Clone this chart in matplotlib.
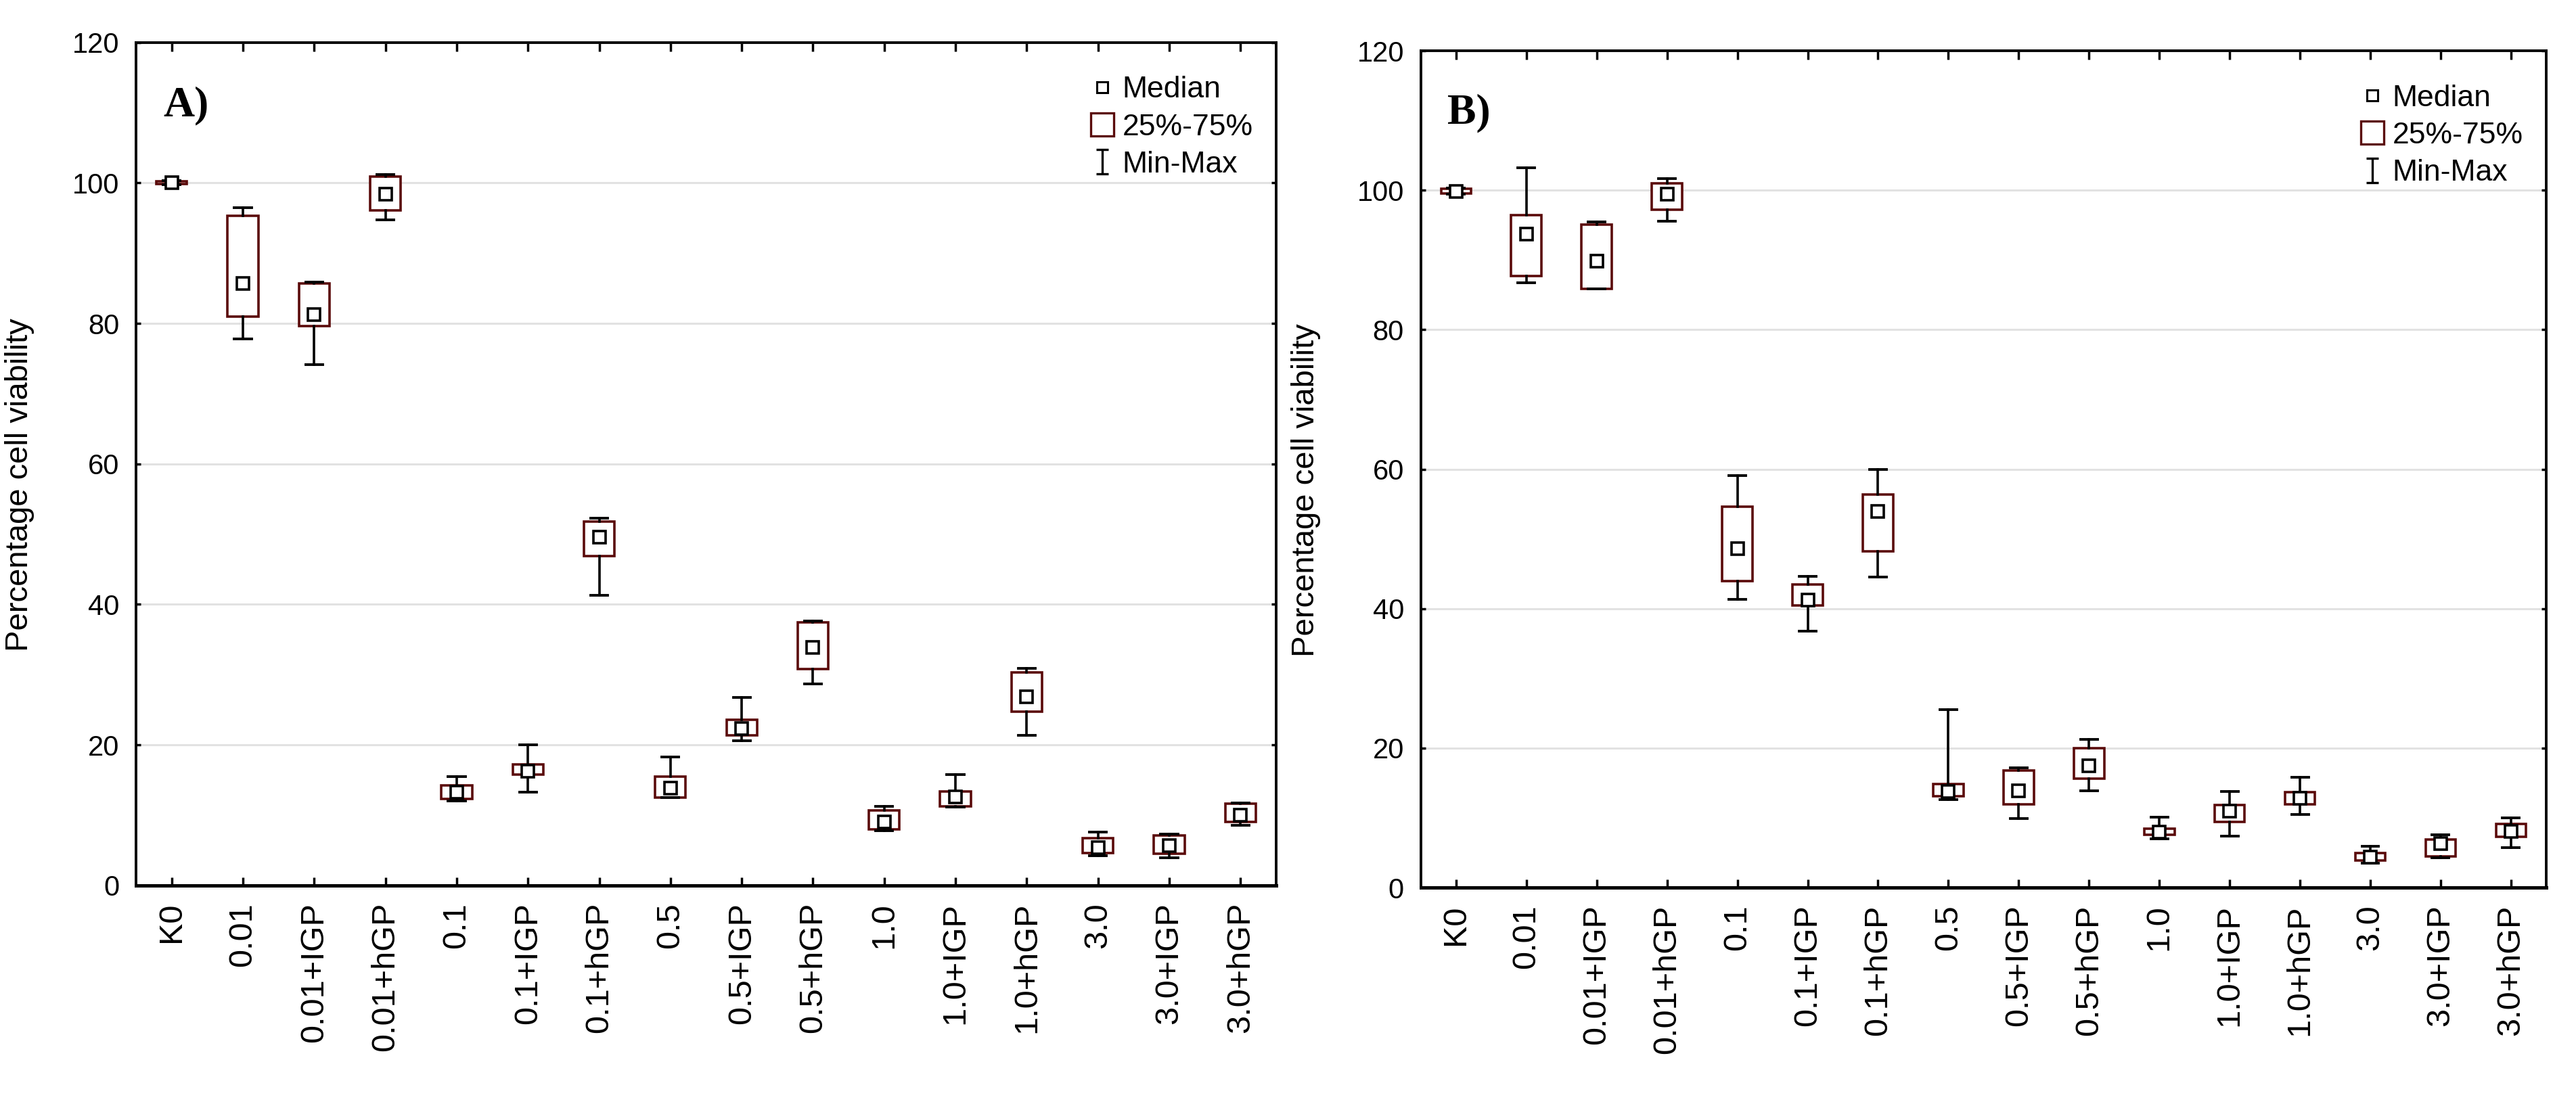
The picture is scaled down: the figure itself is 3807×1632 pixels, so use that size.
import matplotlib
matplotlib.use("Agg")
import matplotlib.pyplot as plt
from matplotlib.lines import Line2D
from matplotlib.path import Path

plt.rcParams['font.family'] = ['Liberation Sans', 'DejaVu Sans']

groups = ['K0', '0.01', '0.01+IGP', '0.01+hGP', '0.1', '0.1+IGP', '0.1+hGP',
          '0.5', '0.5+IGP', '0.5+hGP', '1.0', '1.0+IGP', '1.0+hGP',
          '3.0', '3.0+IGP', '3.0+hGP']

# panel A
med_a = [100.0, 85.7, 81.3, 98.4, 13.3, 16.3, 49.6, 13.9, 22.3, 33.9, 9.0, 12.6, 26.9, 5.4, 5.7, 10.0]
q1_a = [99.8, 81.0, 79.6, 96.1, 12.3, 15.8, 46.9, 12.5, 21.4, 30.8, 8.0, 11.3, 24.7, 4.6, 4.5, 9.0]
q3_a = [100.2, 95.3, 85.7, 100.9, 14.2, 17.2, 51.8, 15.5, 23.6, 37.4, 10.7, 13.4, 30.3, 6.7, 7.1, 11.6]
min_a = [99.7, 77.8, 74.1, 94.7, 12.0, 13.3, 41.3, 12.5, 20.6, 28.7, 7.8, 11.2, 21.4, 4.2, 3.9, 8.6]
max_a = [100.3, 96.5, 85.9, 101.2, 15.5, 20.0, 52.3, 18.3, 26.8, 37.6, 11.3, 15.8, 30.9, 7.6, 7.3, 11.7]

# panel B
med_b = [99.8, 93.7, 89.8, 99.4, 48.6, 41.2, 53.9, 13.8, 13.9, 17.5, 8.0, 11.0, 12.8, 4.4, 6.3, 8.1]
q1_b = [99.5, 87.7, 85.9, 97.2, 44.0, 40.5, 48.2, 13.1, 11.9, 15.6, 7.6, 9.4, 11.9, 3.9, 4.5, 7.3]
q3_b = [100.2, 96.4, 95.1, 101.0, 54.6, 43.5, 56.4, 14.9, 16.8, 20.0, 8.5, 11.8, 13.7, 5.0, 6.9, 9.1]
min_b = [99.4, 86.7, 85.9, 95.6, 41.3, 36.8, 44.5, 12.6, 9.9, 13.9, 7.0, 7.4, 10.5, 3.5, 4.3, 5.7]
max_b = [100.3, 103.2, 95.5, 101.7, 59.1, 44.6, 60.0, 25.5, 17.2, 21.3, 10.1, 13.8, 15.8, 5.9, 7.6, 10.0]

box_col = '#5a0a0a'

# min-max marker for the legend
whisk_path = Path([(-0.5, 1), (0.5, 1), (0, 1), (0, -1), (-0.5, -1), (0.5, -1)],
                  [Path.MOVETO, Path.LINETO, Path.MOVETO, Path.LINETO, Path.MOVETO, Path.LINETO])


def draw_panel(ax, med, q1, q3, lo, hi, letter):
    stats = []
    for i in range(len(groups)):
        stats.append(dict(med=med[i], q1=q1[i], q3=q3[i], whislo=lo[i], whishi=hi[i]))
    pos = list(range(len(groups)))
    ax.bxp(stats, positions=pos, widths=0.43, capwidths=0.24, patch_artist=True,
           showfliers=False,
           boxprops=dict(facecolor='white', edgecolor=box_col, linewidth=2.6),
           whiskerprops=dict(color='black', linewidth=2.6),
           capprops=dict(color='black', linewidth=2.8),
           medianprops=dict(linewidth=0))
    ax.plot(pos, med, linestyle='none', marker='s', markersize=12.5,
            markerfacecolor='white', markeredgecolor='black', markeredgewidth=2.6, zorder=5)

    ax.set_xlim(-0.5, len(groups) - 0.5)
    ax.set_ylim(0, 120)
    ax.set_yticks([0, 20, 40, 60, 80, 100, 120])
    ax.set_xticks(pos)
    ax.set_xticklabels(groups, rotation=90, fontsize=35)
    ax.tick_params(axis='y', labelsize=30, direction='in', length=5, width=2.5,
                   right=True, pad=18)
    ax.tick_params(axis='x', direction='in', length=9, width=2.5, top=True, pad=18)
    ax.yaxis.grid(True, color='#e2e2e2', linewidth=2.2)
    ax.set_axisbelow(True)
    for s in ax.spines.values():
        s.set_linewidth(2.8)
    ax.spines['bottom'].set_linewidth(3.6)
    ax.set_ylabel('Percentage cell viability', fontsize=34)
    ax.yaxis.set_label_coords(-0.089, 0.475)
    ax.text(-0.12, 111, letter, fontsize=46, fontweight='bold',
            family='Liberation Serif', va='center', ha='left')

    handles = [
        Line2D([], [], linestyle='none', marker='s', markersize=11, markerfacecolor='white',
               markeredgecolor='black', markeredgewidth=2.2),
        Line2D([], [], linestyle='none', marker='s', markersize=24, markerfacecolor='white',
               markeredgecolor=box_col, markeredgewidth=2.4),
        Line2D([], [], linestyle='none', marker=whisk_path, markersize=26, color='black',
               markeredgewidth=2.4),
    ]
    ax.legend(handles, ['Median', '25%-75%', 'Min-Max'], loc='upper right',
              bbox_to_anchor=(0.998, 0.985), frameon=False, fontsize=32,
              handlelength=0.9, handletextpad=0.2, labelspacing=0.32, borderpad=0.2)


fig = plt.figure(figsize=(38.07, 16.32), dpi=100)
ax1 = fig.add_axes([0.0528, 0.198, 0.4426, 0.7636])
ax2 = fig.add_axes([0.5516, 0.196, 0.4368, 0.758])

draw_panel(ax1, med_a, q1_a, q3_a, min_a, max_a, 'A)')
draw_panel(ax2, med_b, q1_b, q3_b, min_b, max_b, 'B)')

fig.savefig('out.png', dpi=100, facecolor='white')
